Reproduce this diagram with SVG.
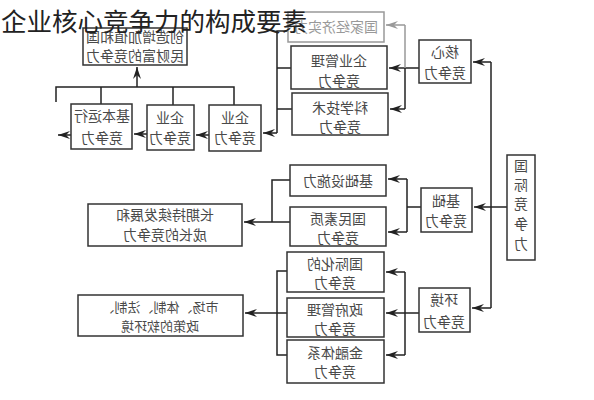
<svg xmlns="http://www.w3.org/2000/svg" width="594" height="400" viewBox="0 0 594 400">
<defs>
<marker id="ah" viewBox="0 0 12 8" refX="12" refY="4" markerWidth="12" markerHeight="8" markerUnits="userSpaceOnUse" orient="auto"><path d="M0,0 L12,4 L0,8 L4,4 Z" fill="#222"/></marker>
<marker id="ahg" viewBox="0 0 12 8" refX="12" refY="4" markerWidth="12" markerHeight="8" markerUnits="userSpaceOnUse" orient="auto"><path d="M0,0 L12,4 L0,8 L4,4 Z" fill="#999"/></marker>
<style>
.box{fill:#fff;stroke:#333;stroke-width:1.5}
.gbox{fill:#fff;stroke:#999;stroke-width:1.5}
.t{font-family:"Noto Sans CJK SC","Noto Sans CJK TC",sans-serif;font-size:14px;fill:#4a4a4a;text-anchor:middle;dominant-baseline:central}
.s{font-size:13px}
.g{fill:#999}
.ln{fill:none;stroke:#222;stroke-width:1.5}
.lg{fill:none;stroke:#999;stroke-width:1.5}
.ar{marker-end:url(#ah)}
.title{font-family:"Noto Sans CJK SC","Noto Sans CJK TC",sans-serif;font-size:25.5px;fill:#222}
</style>
</defs>
<rect width="594" height="400" fill="#fff"/>

<g id="connectors">
<path class="ln" d="M491,62 V308"/>
<path class="ln ar" d="M491,62 H473"/>
<path class="ln ar" d="M507,207 H474"/>
<path class="ln ar" d="M491,308 H472"/>
<path class="ln ar" d="M419,68 H389"/>
<path class="lg" d="M405,25 V68"/>
<path class="ln" d="M405,68 V109"/>
<path class="lg" d="M405,25 H386" marker-end="url(#ahg)"/>
<path class="ln ar" d="M405,109 H390"/>
<path class="ln" d="M288,31 H277 V133"/>
<path class="ln" d="M291,68 H277"/>
<path class="ln" d="M292,109 H277"/>
<path class="ln ar" d="M277,133 H263"/>
<path class="ln ar" d="M209,135 H196"/>
<path class="ln ar" d="M147,134 H134"/>
<path class="ln ar" d="M71,135 H58"/>
<path class="ln" d="M56,102 V87 H234 V105"/>
<path class="ln" d="M101,87 V104"/>
<path class="ln" d="M173,87 V105"/>
<path class="ln ar" d="M137,87 V67"/>
<path class="ln" d="M421,207 H407"/>
<path class="ln" d="M407,179 V232"/>
<path class="ln ar" d="M407,179 H388"/>
<path class="ln ar" d="M407,232 H388"/>
<path class="ln" d="M290,180 H272 V222"/>
<path class="ln" d="M290,222 H272"/>
<path class="ln ar" d="M272,222 H244"/>
<path class="ln ar" d="M419,313 H386"/>
<path class="ln" d="M405,272 V355"/>
<path class="ln ar" d="M405,272 H386"/>
<path class="ln ar" d="M405,355 H386"/>
<path class="ln" d="M287,271 H277 V355 H287"/>
<path class="ln ar" d="M287,313 H245"/>
</g>

<g id="root"><rect class="box" x="507" y="155" width="28" height="105"/>
<text class="t" transform="scale(-1,1)" x="-521" y="165">国</text>
<text class="t" transform="scale(-1,1)" x="-521" y="184">际</text>
<text class="t" transform="scale(-1,1)" x="-521" y="203">竞</text>
<text class="t" transform="scale(-1,1)" x="-521" y="223">争</text>
<text class="t" transform="scale(-1,1)" x="-521" y="243">力</text></g>

<g id="core"><rect class="box" x="419" y="40" width="52" height="43"/>
<text class="t" transform="scale(-1,1)" x="-445" y="51">核心</text>
<text class="t" transform="scale(-1,1)" x="-445" y="72">竞争力</text></g>

<g id="national"><rect class="gbox" x="288" y="12" width="96" height="30"/>
<text class="t g" transform="scale(-1,1)" x="-336" y="26">国家经济实力</text></g>

<g id="mgmt"><rect class="box" x="291" y="46" width="96" height="43"/>
<text class="t" transform="scale(-1,1)" x="-339" y="60">企业管理</text>
<text class="t" transform="scale(-1,1)" x="-339" y="80">竞争力</text></g>

<g id="tech"><rect class="box" x="292" y="93" width="96" height="42"/>
<text class="t" transform="scale(-1,1)" x="-340" y="107">科学技术</text>
<text class="t" transform="scale(-1,1)" x="-340" y="126">竞争力</text></g>

<g id="ent1"><rect class="box" x="209" y="105" width="52" height="46"/>
<text class="t" transform="scale(-1,1)" x="-235" y="117">企业</text>
<text class="t" transform="scale(-1,1)" x="-235" y="137">竞争力</text></g>

<g id="ent2"><rect class="box" x="147" y="105" width="47" height="45"/>
<text class="t" transform="scale(-1,1)" x="-170" y="117">企业</text>
<text class="t" transform="scale(-1,1)" x="-170" y="137">竞争力</text></g>

<g id="basicop"><rect class="box" x="71" y="104" width="61" height="45"/>
<text class="t" transform="scale(-1,1)" x="-102" y="115">基本运行</text>
<text class="t" transform="scale(-1,1)" x="-102" y="137">竞争力</text></g>

<g id="wealth"><rect class="box" x="83" y="28" width="104" height="37"/>
<text class="t" transform="scale(-1,1)" x="-135" y="36">创造增加值和国</text>
<text class="t" transform="scale(-1,1)" x="-135" y="55">民财富的竞争力</text></g>

<g id="base"><rect class="box" x="421" y="188" width="51" height="44"/>
<text class="t" transform="scale(-1,1)" x="-446" y="200">基础</text>
<text class="t" transform="scale(-1,1)" x="-446" y="220">竞争力</text></g>

<g id="infra"><rect class="box" x="290" y="165" width="96" height="31"/>
<text class="t" transform="scale(-1,1)" x="-338" y="180">基础设施力</text></g>

<g id="people"><rect class="box" x="290" y="207" width="96" height="39"/>
<text class="t" transform="scale(-1,1)" x="-338" y="218">国民素质</text>
<text class="t" transform="scale(-1,1)" x="-338" y="237">竞争力</text></g>

<g id="longterm"><rect class="box" x="88" y="204" width="154" height="42"/>
<text class="t" transform="scale(-1,1)" x="-165" y="214">长期持续发展和</text>
<text class="t" transform="scale(-1,1)" x="-165" y="234">成长的竞争力</text></g>

<g id="env"><rect class="box" x="419" y="288" width="51" height="44"/>
<text class="t" transform="scale(-1,1)" x="-444" y="299">环境</text>
<text class="t" transform="scale(-1,1)" x="-444" y="321">竞争力</text></g>

<g id="intl"><rect class="box" x="287" y="252" width="97" height="40"/>
<text class="t" transform="scale(-1,1)" x="-335" y="263">国际化的</text>
<text class="t" transform="scale(-1,1)" x="-335" y="282">竞争力</text></g>

<g id="gov"><rect class="box" x="287" y="298" width="97" height="39"/>
<text class="t" transform="scale(-1,1)" x="-335" y="309">政府管理</text>
<text class="t" transform="scale(-1,1)" x="-335" y="328">竞争力</text></g>

<g id="finance"><rect class="box" x="287" y="340" width="97" height="43"/>
<text class="t" transform="scale(-1,1)" x="-335" y="352">金融体系</text>
<text class="t" transform="scale(-1,1)" x="-335" y="371">竞争力</text></g>

<g id="market"><rect class="box" x="78" y="295" width="165" height="41"/>
<text class="t s" transform="scale(-1,1)" x="-160" y="306">市场、体制、法制、</text>
<text class="t s" transform="scale(-1,1)" x="-160" y="325">政策的软环境</text></g>

<text class="title" x="1" y="31">企业核心竞争力的构成要素</text>
</svg>
